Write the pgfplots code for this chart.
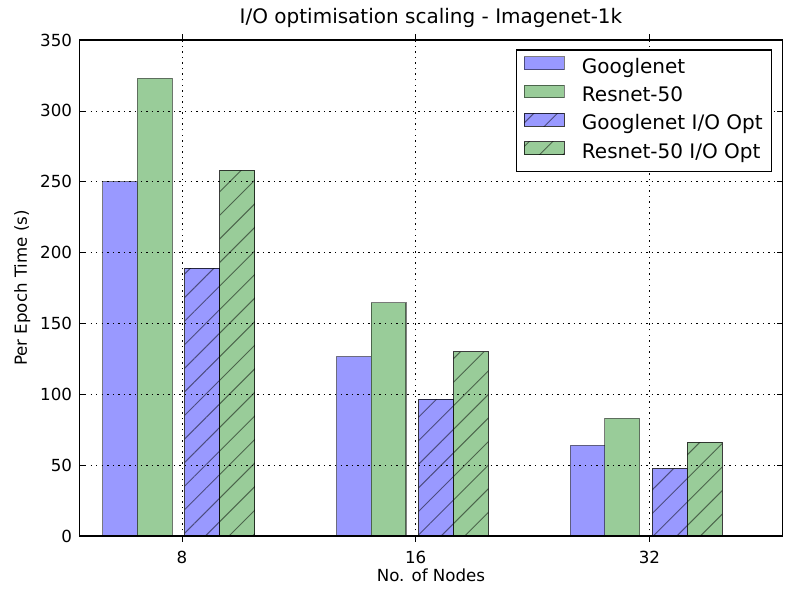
\documentclass[border=0pt]{standalone}
\usepackage{fontspec}
\setmainfont{DejaVu Sans}
\usepackage{pgfplots}
\pgfplotsset{compat=1.18}
\usetikzlibrary{patterns.meta}

\definecolor{gblue}{RGB}{153,153,255}
\definecolor{rgreen}{RGB}{153,204,153}

\tikzset{
  barbase/.style={draw=black, draw opacity=0.5, line width=0.8pt},
  hatched/.style={postaction={pattern={Lines[angle=45,distance=12pt,line width=0.7pt]}, pattern color=black, fill opacity=0.4}},
}

\begin{document}
\begin{tikzpicture}
\begin{axis}[
  at={(0,0)}, anchor=south west,
  scale only axis, width=506.2pt, height=357.1pt,
  xmin=-0.4386, xmax=2.5696, ymin=0, ymax=350,
  xtick={0,1,2}, xticklabels={8,16,32},
  ytick={0,50,...,350},
  ybar, bar width=0.149,
  grid=major,
  major grid style={black, line width=0.5pt, dash pattern=on 1pt off 3pt},
  axis line style={line width=1pt},
  tick style={black, line width=0.5pt}, major tick length=4pt,
  axis on top,
  font=\fontsize{12}{14}\selectfont,
  tick label style={font=\fontsize{12}{14}\selectfont},
  /pgf/number format/assume math mode=true,
  xticklabel style={yshift=-3.2pt},
  yticklabel style={xshift=-1.8pt},
  title={I/O optimisation scaling - Imagenet-1k},
  title style={at={(axis description cs:0.5,1)}, anchor=base, yshift=5.8pt, font=\fontsize{14.4}{16}\selectfont},
  xlabel={No. of Nodes},
  xlabel style={at={(axis description cs:0.5,0)}, anchor=base, yshift=-32.9pt},
  ylabel={Per Epoch Time (s)},
  every axis y label/.style={at={(axis description cs:0,0.5)}, xshift=-37.8pt, rotate=90, anchor=base},
  legend cell align=left,
  legend image code/.code={\draw[#1] (0pt,-0.9pt) rectangle (28.8pt,8.3pt);},
  legend style={at={(0.9856,0.9812)}, anchor=north east, draw=black, line width=1pt,
    font=\fontsize{14.4}{16}\selectfont, inner xsep=5pt, inner ysep=3pt, column sep=10.8pt, row sep=0pt,
    nodes={inner xsep=1.5pt, inner ysep=0pt, text height=13.6pt, text depth=6.8pt}},
]
\addplot[barbase, fill=gblue, bar shift=-0.264] coordinates {(0,250) (1,126.5) (2,64)};
\addlegendentry{Googlenet}
\addplot[barbase, fill=rgreen, bar shift=-0.116] coordinates {(0,323) (1,164.5) (2,83)};
\addlegendentry{Resnet-50}
\addplot[barbase, fill=gblue, hatched, bar shift=0.087] coordinates {(0,189) (1,96.5) (2,47.5)};
\addlegendentry{Googlenet I/O Opt}
\addplot[barbase, fill=rgreen, hatched, bar shift=0.237] coordinates {(0,258) (1,130) (2,66)};
\addlegendentry{Resnet-50 I/O Opt}
\end{axis}
\pgfresetboundingbox
\path (-57.2pt,-46.1pt) rectangle (518.8pt,385.9pt);
\end{tikzpicture}
\end{document}
